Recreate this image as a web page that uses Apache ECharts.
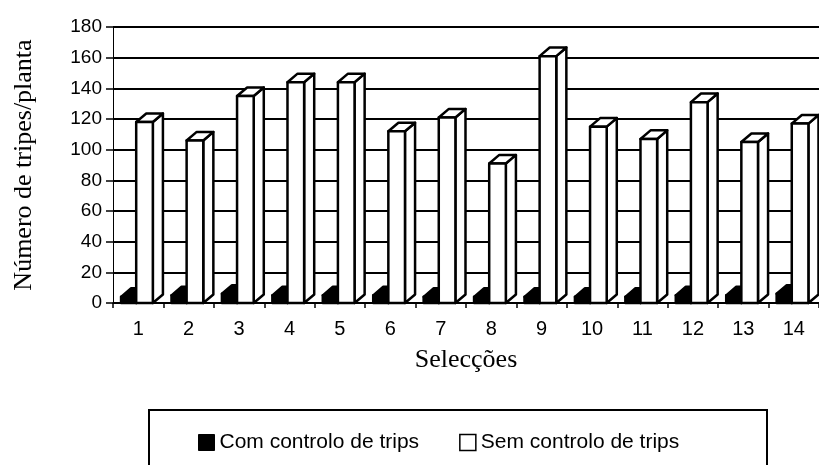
<!DOCTYPE html>
<html>
<head>
<meta charset="utf-8">
<script src="https://cdn.jsdelivr.net/npm/echarts@6/dist/echarts.min.js"></script>
<style>
  html, body { margin: 0; padding: 0; background: #fff; }
  #chart { width: 819px; height: 465px; }
</style>
</head>
<body>
<div id="chart"></div>
<script>
const categories = ['1', '2', '3', '4', '5', '6', '7', '8', '9', '10', '11', '12', '13', '14']
const comControlo = [4, 5, 6, 5, 5, 5, 4, 4, 4, 4, 4, 5, 5, 6]
const semControlo = [118, 106, 135, 144, 144, 112, 121, 91, 161, 115, 107, 131, 105, 117]
const seriesNames = ['Com controlo de trips', 'Sem controlo de trips']
const yMin = 0
const yMax = 180
const yStep = 20

const chart = echarts.init(document.getElementById('chart'))

// coluna 3D: face da frente, topo e lado
const bar3d = (fromFrac, toFrac, fill) => (params, api) => {
    const idx = api.value(0)
    const val = api.value(1)
    const base = api.coord([idx, 0])
    const top = api.coord([idx, val])
    const bw = api.size([1, 0])[0]
    const x0 = base[0] + fromFrac * bw
    const x1 = base[0] + toFrac * bw
    const dx = bw * 0.2
    const dy = -bw * 0.17
    const style = { fill: fill, stroke: '#000', lineWidth: 2.5, lineJoin: 'round' }
    return {
        type: 'group',
        children: [
            {
                type: 'polygon',
                shape: { points: [[x1, base[1]], [x1 + dx, base[1] + dy], [x1 + dx, top[1] + dy], [x1, top[1]]] },
                style: style
            },
            {
                type: 'polygon',
                shape: { points: [[x0, top[1]], [x0 + dx, top[1] + dy], [x1 + dx, top[1] + dy], [x1, top[1]]] },
                style: style
            },
            {
                type: 'rect',
                shape: { x: x0, y: top[1], width: x1 - x0, height: base[1] - top[1] },
                style: style
            }
        ]
    }
}

const option = {
    backgroundColor: '#fff',
    animation: false,
    grid: {
        left: 113,
        top: 27,
        width: 708,
        bottom: 162
    },
    legend: {
        left: 193,
        top: 427,
        itemWidth: 16,
        itemHeight: 16,
        itemGap: 40,
        icon: 'rect',
        textStyle: { fontFamily: 'Liberation Sans', fontSize: 21, color: '#000' },
        data: [
            { name: seriesNames[0], itemStyle: { color: '#000', borderColor: '#000', borderWidth: 1 } },
            { name: seriesNames[1], itemStyle: { color: '#fff', borderColor: '#000', borderWidth: 1.5 } }
        ]
    },
    graphic: [
        {
            type: 'rect',
            shape: { x: 149, y: 410, width: 618, height: 90 },
            style: { fill: 'none', stroke: '#000', lineWidth: 2 },
            z: -1
        }
    ],
    xAxis: {
        type: 'category',
        data: categories,
        name: 'Selecções',
        nameLocation: 'middle',
        nameGap: 44,
        nameTextStyle: { fontFamily: 'Liberation Serif', fontSize: 26, color: '#000' },
        axisLine: { lineStyle: { color: '#000', width: 1.5 } },
        axisTick: { show: true, length: 5, lineStyle: { color: '#000', width: 1.5 } },
        axisLabel: { margin: 16, fontFamily: 'Liberation Sans', fontSize: 20, color: '#000' }
    },
    yAxis: {
        type: 'value',
        min: yMin,
        max: yMax,
        interval: yStep,
        name: 'Número de tripes/planta',
        nameLocation: 'middle',
        nameRotate: 90,
        nameGap: 76,
        nameTextStyle: { fontFamily: 'Liberation Serif', fontSize: 26, color: '#000' },
        axisLine: { show: true, lineStyle: { color: '#000', width: 1 } },
        axisTick: { show: true, length: 7, lineStyle: { color: '#000', width: 1.5 } },
        axisLabel: { margin: 11, fontFamily: 'Liberation Sans', fontSize: 19, color: '#000' },
        splitLine: { show: true, lineStyle: { color: '#000', width: 2 } }
    },
    series: [
        {
            name: seriesNames[0],
            type: 'custom',
            renderItem: bar3d(-0.34, -0.04, '#000'),
            itemStyle: { color: '#000' },
            encode: { x: 0, y: 1 },
            data: comControlo.map((v, i) => [i, v])
        },
        {
            name: seriesNames[1],
            type: 'custom',
            renderItem: bar3d(-0.04, 0.29, '#fff'),
            itemStyle: { color: '#fff', borderColor: '#000' },
            encode: { x: 0, y: 1 },
            data: semControlo.map((v, i) => [i, v])
        }
    ]
}

option && chart.setOption(option)
</script>
</body>
</html>
